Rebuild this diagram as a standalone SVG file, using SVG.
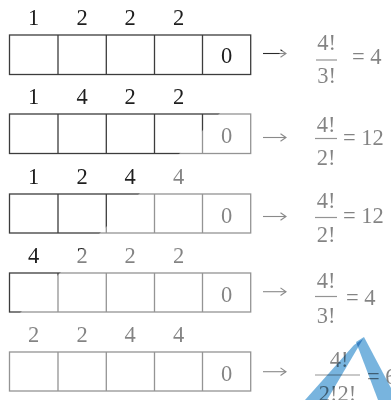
<svg xmlns="http://www.w3.org/2000/svg" width="391" height="400" viewBox="0 0 391 400">
<defs>
<marker id="ah" markerWidth="8" markerHeight="10" refX="7" refY="5" orient="auto" markerUnits="userSpaceOnUse">
<path d="M1.5 1.2L7 5L1.5 8.8" fill="none" stroke="#2a2a2a" stroke-width="1.1"/>
</marker>
</defs>
<style>
text{font-family:"Liberation Serif","DejaVu Serif",serif;font-size:22.5px;fill:#1e1e1e}
.m{text-anchor:middle}
.box{fill:none;stroke:#3c3c3c;stroke-width:1.3}
.bar{stroke:#3c3c3c;stroke-width:1.2}
.arr{stroke:#2a2a2a;stroke-width:1.1;fill:none;marker-end:url(#ah)}
.blue{fill:#78b4de;mix-blend-mode:multiply}
</style>
<rect width="391" height="400" fill="#ffffff"/>
<g id="row1">
<text class="m" x="33.5" y="25">1</text><text class="m" x="82" y="25">2</text><text class="m" x="130" y="25">2</text><text class="m" x="178.5" y="25">2</text>
<rect class="box" x="9.5" y="35" width="241.2" height="39.5"/>
<path class="box" d="M58 35V74.5M106.3 35V74.5M154.5 35V74.5M202.5 35V74.5"/>
<text class="m" x="226.6" y="63">0</text>
</g>
<g id="row2">
<text class="m" x="33.5" y="104">1</text><text class="m" x="82" y="104">4</text><text class="m" x="130" y="104">2</text><text class="m" x="178.5" y="104">2</text>
<rect class="box" x="9.5" y="114" width="241.2" height="39.5"/>
<path class="box" d="M58 114V153.5M106.3 114V153.5M154.5 114V153.5M202.5 114V153.5"/>
<text class="m" x="226.6" y="142.5">0</text>
</g>
<g id="row3">
<text class="m" x="33.5" y="183.5">1</text><text class="m" x="82" y="183.5">2</text><text class="m" x="130" y="183.5">4</text><text class="m" x="178.5" y="183.5">4</text>
<rect class="box" x="9.5" y="194" width="241.2" height="39"/>
<path class="box" d="M58 194V233M106.3 194V233M154.5 194V233M202.5 194V233"/>
<text class="m" x="226.6" y="222.5">0</text>
</g>
<g id="row4">
<text class="m" x="33.5" y="262.5">4</text><text class="m" x="82" y="262.5">2</text><text class="m" x="130" y="262.5">2</text><text class="m" x="178.5" y="262.5">2</text>
<rect class="box" x="9.5" y="273" width="241.2" height="39"/>
<path class="box" d="M58 273V312M106.3 273V312M154.5 273V312M202.5 273V312"/>
<text class="m" x="226.6" y="301.5">0</text>
</g>
<g id="row5">
<text class="m" x="33.5" y="341.5">2</text><text class="m" x="82" y="341.5">2</text><text class="m" x="130" y="341.5">4</text><text class="m" x="178.5" y="341.5">4</text>
<rect class="box" x="9.5" y="352" width="241.2" height="39"/>
<path class="box" d="M58 352V391M106.3 352V391M154.5 352V391M202.5 352V391"/>
<text class="m" x="226.6" y="380.5">0</text>
</g>
<g id="connectors">
<path class="arr" d="M263 53.5H286"/>
<path class="arr" d="M263 137.5H286"/>
<path class="arr" d="M263 216.5H286"/>
<path class="arr" d="M263 291.7H286"/>
<path class="arr" d="M263 371.7H286"/>
</g>
<g id="result1">
<text class="m" x="326.5" y="50">4!</text>
<line class="bar" x1="316" y1="60" x2="337" y2="60"/>
<text class="m" x="326.5" y="83">3!</text>
<text x="352" y="64">= 4</text>
</g>
<g id="result2">
<text class="m" x="326" y="131.5">4!</text>
<line class="bar" x1="315" y1="138.5" x2="337" y2="138.5"/>
<text class="m" x="326" y="165">2!</text>
<text x="343" y="145">= 12</text>
</g>
<g id="result3">
<text class="m" x="326" y="208">4!</text>
<line class="bar" x1="315" y1="217.5" x2="337" y2="217.5"/>
<text class="m" x="326" y="242">2!</text>
<text x="343" y="223">= 12</text>
</g>
<g id="result4">
<text class="m" x="326" y="288">4!</text>
<line class="bar" x1="315" y1="296.5" x2="337" y2="296.5"/>
<text class="m" x="326" y="323">3!</text>
<text x="346" y="305">= 4</text>
</g>
<g id="result5">
<text class="m" x="339" y="367">4!</text>
<line class="bar" x1="315" y1="375" x2="360" y2="375"/>
<text class="m" x="337.5" y="401">2!2!</text>
<text x="367" y="384">= 6</text>
</g>
<polygon points="333,0 391,0 391,400 0,400 0,333" fill="#ffffff" fill-opacity="0.45"/>
<g id="mark">
<polygon class="blue" points="354,345 363,339 327,400 305,400"/>
<polygon class="blue" points="356,342 364,337 391,388 391,400 378,400"/>
</g>
</svg>
